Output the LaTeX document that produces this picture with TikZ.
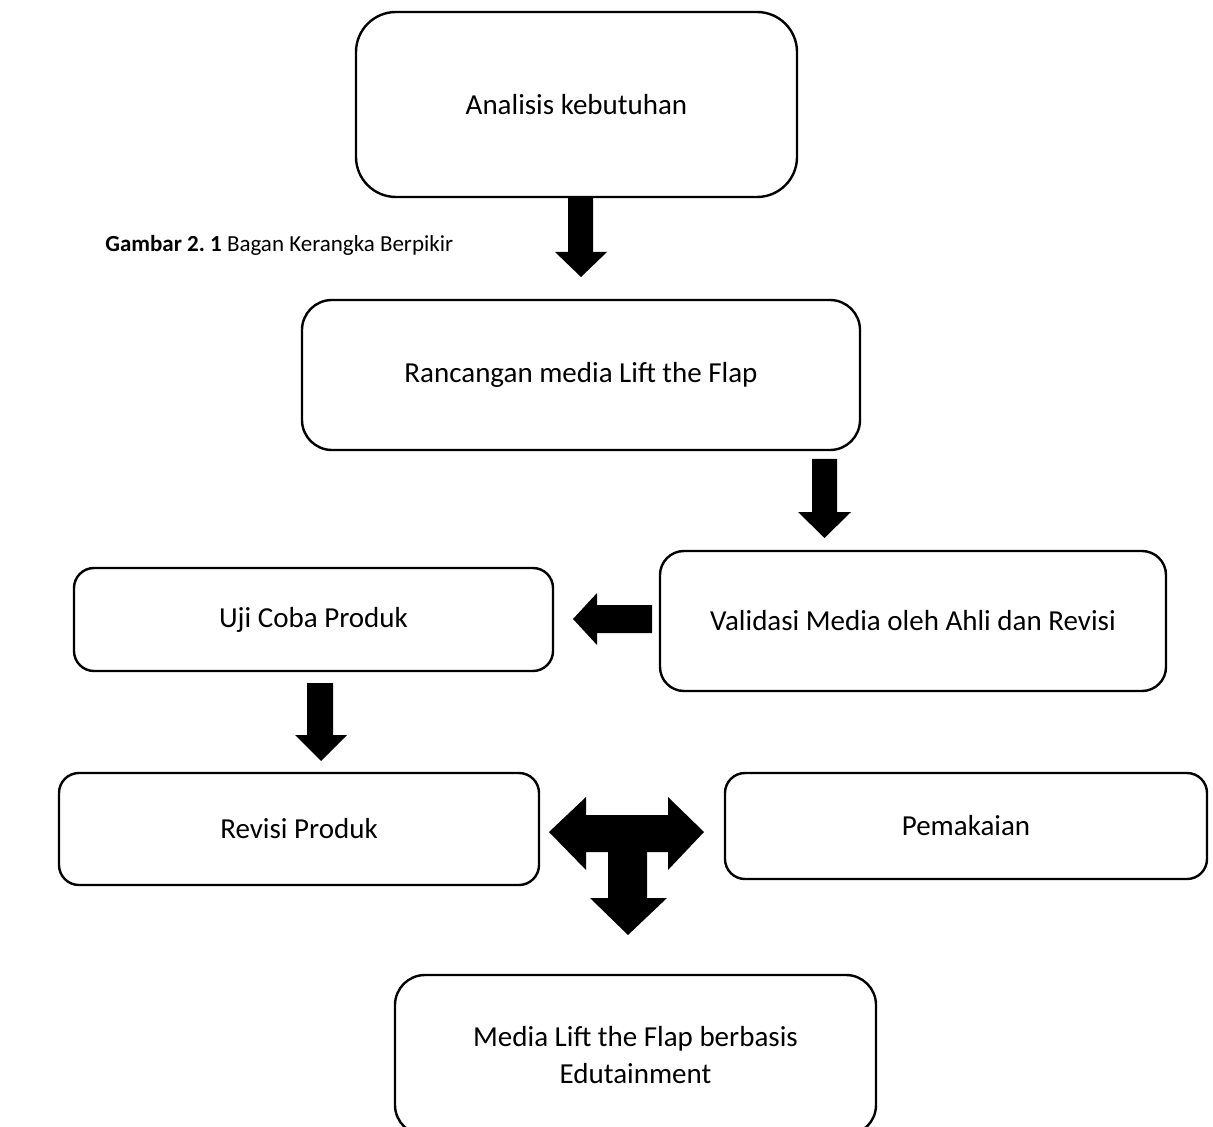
\documentclass[tikz,border=0pt]{standalone}
\usepackage{fontspec}
\setmainfont{Carlito}
\tikzset{
  box/.style={draw=black, line width=1.2pt, rounded corners=10pt, align=center},
  blk/.style={fill=black}
}
\begin{document}
\begin{tikzpicture}[x=0.5pt, y=-0.5pt, every node/.style={font=\fontsize{14.5}{18.5}\selectfont}]
\useasboundingbox (0,0) rectangle (1213,1127);
% boxes
\node[box, rounded corners=20pt, minimum width=220.5pt, minimum height=92.5pt] (analisis) at (576.5,104.5) {Analisis kebutuhan};
\node[box, rounded corners=15pt, minimum width=279pt, minimum height=75pt] (rancangan) at (581,375) {Rancangan media Lift the Flap};
\node[box, rounded corners=12pt, minimum width=253pt, minimum height=70pt] (validasi) at (913,621) {Validasi Media oleh Ahli dan Revisi};
\node[box, minimum width=239.5pt, minimum height=51.5pt] (uji) at (313.5,619.5) {Uji Coba Produk};
\node[box, minimum width=240pt, minimum height=56pt] (revisi) at (299,829) {Revisi Produk};
\node[box, minimum width=241pt, minimum height=53pt] (pakai) at (966,826) {Pemakaian};
\node[box, rounded corners=15pt, minimum width=240.5pt, minimum height=80pt] (media) at (635.5,1055) {Media Lift the Flap berbasis\\Edutainment};
\node[anchor=west, inner sep=0pt, font=\fontsize{11.5}{14}\selectfont] (judul) at (105,245) {\textbf{Gambar 2.\ 1} Bagan Kerangka Berpikir};
% block arrows
\fill[blk] (568,197) -- (593,197) -- (593,252) -- (607,252) -- (581,277) -- (555,252) -- (568,252) -- cycle;
\fill[blk] (812,459) -- (837,459) -- (837,512) -- (851,512) -- (824.5,538) -- (798,512) -- (812,512) -- cycle;
\fill[blk] (652,605) -- (652,633) -- (597,633) -- (597,645) -- (573,619) -- (597,593) -- (597,605) -- cycle;
\fill[blk] (307,683) -- (333,683) -- (333,735) -- (347,735) -- (321,761) -- (295,735) -- (307,735) -- cycle;
% T arrow
\fill[blk] (549,832) -- (586,797) -- (586,815) -- (668,815) -- (668,797) -- (704,832) -- (668,870) -- (668,852)
  -- (647,852) -- (647,898) -- (667,898) -- (628,935) -- (590,898) -- (608,898) -- (608,852) -- (586,852) -- (586,870) -- cycle;
\end{tikzpicture}
\end{document}
